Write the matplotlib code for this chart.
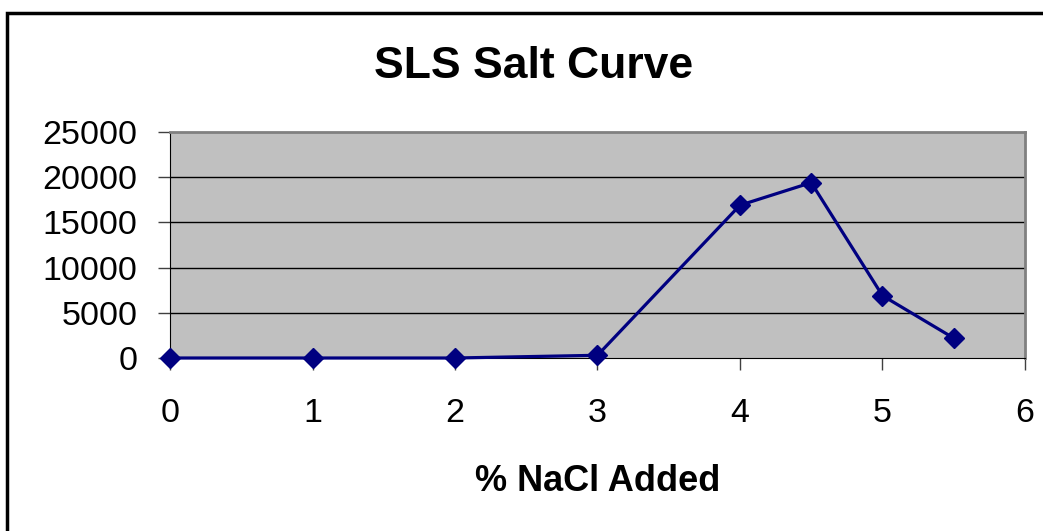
import matplotlib
matplotlib.use("Agg")
from matplotlib import pyplot as plt
from matplotlib.patches import Rectangle

# % NaCl added vs. response
nacl_pct = [0, 1, 2, 3, 4, 4.5, 5, 5.5]
sls_values = [0, 0, 0, 300, 16900, 19400, 6900, 2200]
x_ticks = [0, 1, 2, 3, 4, 5, 6]
y_ticks = [0, 5000, 10000, 15000, 20000, 25000]

plt.rcParams['font.family'] = ['Liberation Sans', 'DejaVu Sans']

fig = plt.figure(figsize=(10.43, 5.31), dpi=100)
ax = fig.add_axes([0.163, 0.3258, 0.8197, 0.4256])

# excel-like grey plot area
ax.set_facecolor('#c0c0c0')
ax.plot(nacl_pct, sls_values, color='#000080', linewidth=2.3,
        marker='D', markersize=10, zorder=3, clip_on=False)

ax.set_xlim(0, 6)
ax.set_ylim(0, 25000)
ax.set_xticks(x_ticks)
ax.set_yticks(y_ticks)

# horizontal gridlines only
for v in y_ticks[1:-1]:
    ax.axhline(v, color='black', linewidth=1, zorder=1)

ax.spines['left'].set_color('black')
ax.spines['bottom'].set_color('black')
ax.spines['top'].set_color('#808080')
ax.spines['right'].set_color('#808080')
ax.spines['top'].set_linewidth(2)
ax.spines['right'].set_linewidth(2)

ax.tick_params(axis='both', direction='out', length=8.5, width=1, color='#404040',
               labelsize=24.5, labelcolor='black')
ax.tick_params(axis='y', pad=15)
ax.tick_params(axis='x', pad=20.5)

ax.set_xlabel('% NaCl Added', fontsize=26, fontweight='bold', labelpad=25)

fig.text(0.5115, 1 - 66 / 531, 'SLS Salt Curve', fontsize=32, fontweight='bold',
         ha='center', va='center')

# chart border
fig.add_artist(Rectangle((7 / 1043, -0.1), 2, 1 - 13 / 531 + 0.1, transform=fig.transFigure,
                         fill=False, edgecolor='black', linewidth=2.5))

fig.savefig('out.png', dpi=100)
